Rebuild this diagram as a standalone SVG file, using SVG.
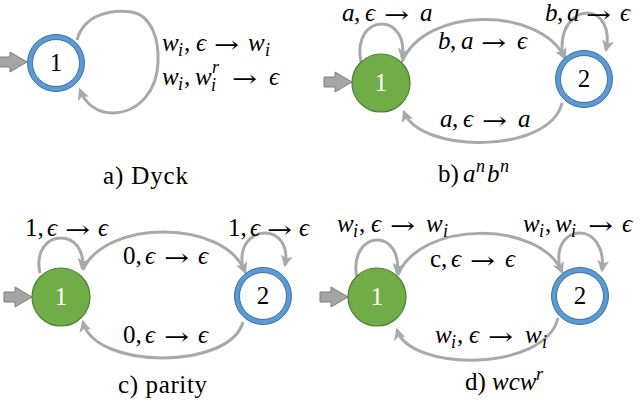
<svg xmlns="http://www.w3.org/2000/svg" xmlns:xlink="http://www.w3.org/1999/xlink" width="640" height="408" viewBox="0 0 640 408">
<style>
.t{font-family:"Liberation Serif","DejaVu Serif",serif;font-size:25px;fill:#000}
.i{font-style:italic}
.s{font-size:18px;font-style:italic}
.ar{font-family:"DejaVu Serif",serif;font-size:24px;fill:#000}
.num{font-family:"Liberation Serif","DejaVu Serif",serif;font-size:25px;text-anchor:middle}
.cap{font-family:"Liberation Serif","DejaVu Serif",serif;font-size:25px;fill:#000}
.edge{fill:none;stroke:#a9a9a9;stroke-width:3;marker-end:url(#ah)}
.ringw{fill:#fff;stroke:#5b9bd5;stroke-width:5}
.ringo{fill:none;stroke:#41719c;stroke-width:1}
.green{fill:#70ad47;stroke:#507e32;stroke-width:1.2}
.start{fill:#a5a5a5;stroke:#7f7f7f;stroke-width:1}
</style>
<defs>
<marker id="ah" viewBox="0 0 10 10" refX="8" refY="5" markerWidth="12" markerHeight="12" markerUnits="userSpaceOnUse" orient="auto">
<path d="M0,0 L10,5 L0,10 L2.5,5 z" fill="#a9a9a9"/>
</marker>
<polygon id="st" class="start" points="-28,-5 -17,-5 -17,-10 0,0 -17,10 -17,5 -28,5"/>
</defs>
<rect width="640" height="408" fill="#fff"/>

<g id="connectors">
<path class="edge" d="M77,40 C84,14 112,9 132,12 C152,16 159,40 158,62 C157,90 140,112 113,113 C96,113 85,103 80,90"/>
<path class="edge" d="M361,62 C356,38 368,24 382,24 C395,24 406,38 402,58"/>
<path class="edge" d="M402,62 C425,6 540,6 565,58"/>
<path class="edge" d="M563,57 C558,28 574,13 587,13 C601,13 611,28 606,50"/>
<path class="edge" d="M562,103 C550,154 420,154 404,112"/>
<path class="edge" d="M40,273 C35,250 48,238 61,238 C74,238 85,250 82,268"/>
<path class="edge" d="M83,270 C105,219 225,219 245,272"/>
<path class="edge" d="M243,268 C238,245 252,233 265,233 C278,233 289,245 285,265"/>
<path class="edge" d="M243,322 C230,370 95,370 83,322"/>
<path class="edge" d="M357,278 C352,255 364,240 377,240 C390,240 400,253 397,273"/>
<path class="edge" d="M398,275 C420,220 540,220 562,272"/>
<path class="edge" d="M560,268 C555,245 567,233 580,233 C593,233 605,247 602,270"/>
<path class="edge" d="M558,318 C545,372 410,372 397,330"/>
</g>

<g id="start-arrows">
<use xlink:href="#st" x="27" y="62"/>
<use xlink:href="#st" x="352" y="82"/>
<use xlink:href="#st" x="32" y="297"/>
<use xlink:href="#st" x="348" y="297"/>
</g>

<g id="a-node1">
<circle class="ringw" cx="56" cy="63" r="26"/>
<circle class="ringo" cx="56" cy="63" r="28.5"/>
<circle class="ringo" cx="56" cy="63" r="23.5"/>
<text class="num" x="56" y="71">1</text>
</g>
<g id="b-node1">
<circle class="green" cx="381" cy="83" r="29"/>
<text class="num" x="381" y="91" fill="#fff">1</text>
</g>
<g id="b-node2">
<circle class="ringw" cx="584" cy="79" r="26"/>
<circle class="ringo" cx="584" cy="79" r="28.5"/>
<circle class="ringo" cx="584" cy="79" r="23.5"/>
<text class="num" x="584" y="87">2</text>
</g>
<g id="c-node1">
<circle class="green" cx="61" cy="297" r="29"/>
<text class="num" x="61" y="305" fill="#fff">1</text>
</g>
<g id="c-node2">
<circle class="ringw" cx="263" cy="296" r="26"/>
<circle class="ringo" cx="263" cy="296" r="28.5"/>
<circle class="ringo" cx="263" cy="296" r="23.5"/>
<text class="num" x="263" y="304">2</text>
</g>
<g id="d-node1">
<circle class="green" cx="377" cy="297" r="29"/>
<text class="num" x="377" y="305" fill="#fff">1</text>
</g>
<g id="d-node2">
<circle class="ringw" cx="580" cy="296" r="26"/>
<circle class="ringo" cx="580" cy="296" r="28.5"/>
<circle class="ringo" cx="580" cy="296" r="23.5"/>
<text class="num" x="580" y="304">2</text>
</g>

<g id="labels">
<g>
<text class="t"><tspan class="i" x="162" y="51">w</tspan><tspan class="s" x="178" y="56">i</tspan><tspan x="184" y="51">,</tspan><tspan class="i" x="196" y="51">ϵ</tspan><tspan class="i" x="248" y="51">w</tspan><tspan class="s" x="265" y="56">i</tspan></text>
<text class="ar" x="214" y="53" textLength="25" lengthAdjust="spacingAndGlyphs">→</text>
</g>
<g>
<text class="t"><tspan class="i" x="162" y="85">w</tspan><tspan class="s" x="178" y="90">i</tspan><tspan x="184" y="85">,</tspan><tspan class="i" x="195" y="85">w</tspan><tspan class="s" x="211" y="91">i</tspan><tspan class="s" x="212" y="73">r</tspan><tspan class="i" x="269" y="85">ϵ</tspan></text>
<text class="ar" x="232" y="87" textLength="25" lengthAdjust="spacingAndGlyphs">→</text>
</g>

<g>
<text class="t"><tspan class="i" x="342" y="21">a</tspan><tspan x="354" y="21">,</tspan><tspan class="i" x="365" y="21">ϵ</tspan><tspan class="i" x="420" y="21">a</tspan></text>
<text class="ar" x="384" y="23" textLength="25" lengthAdjust="spacingAndGlyphs">→</text>
</g>
<g>
<text class="t"><tspan class="i" x="438" y="49">b</tspan><tspan x="450" y="49">,</tspan><tspan class="i" x="461" y="49">a</tspan><tspan class="i" x="517" y="49">ϵ</tspan></text>
<text class="ar" x="481" y="51" textLength="25" lengthAdjust="spacingAndGlyphs">→</text>
</g>
<g>
<text class="t"><tspan class="i" x="545" y="21">b</tspan><tspan x="557" y="21">,</tspan><tspan class="i" x="567" y="21">a</tspan><tspan class="i" x="620" y="21">ϵ</tspan></text>
<text class="ar" x="586" y="23" textLength="25" lengthAdjust="spacingAndGlyphs">→</text>
</g>
<g>
<text class="t"><tspan class="i" x="440" y="127">a</tspan><tspan x="452" y="127">,</tspan><tspan class="i" x="463" y="127">ϵ</tspan><tspan class="i" x="518" y="127">a</tspan></text>
<text class="ar" x="482" y="129" textLength="25" lengthAdjust="spacingAndGlyphs">→</text>
</g>

<g>
<text class="t"><tspan x="25" y="236">1,</tspan><tspan class="i" x="47" y="236">ϵ</tspan><tspan class="i" x="98" y="236">ϵ</tspan></text>
<text class="ar" x="65" y="238" textLength="25" lengthAdjust="spacingAndGlyphs">→</text>
</g>
<g>
<text class="t"><tspan x="123" y="264">0,</tspan><tspan class="i" x="145" y="264">ϵ</tspan><tspan class="i" x="198" y="264">ϵ</tspan></text>
<text class="ar" x="164" y="266" textLength="25" lengthAdjust="spacingAndGlyphs">→</text>
</g>
<g>
<text class="t"><tspan x="228" y="236">1,</tspan><tspan class="i" x="250" y="236">ϵ</tspan><tspan class="i" x="299" y="236">ϵ</tspan></text>
<text class="ar" x="267" y="238" textLength="25" lengthAdjust="spacingAndGlyphs">→</text>
</g>
<g>
<text class="t"><tspan x="123" y="343">0,</tspan><tspan class="i" x="145" y="343">ϵ</tspan><tspan class="i" x="198" y="343">ϵ</tspan></text>
<text class="ar" x="164" y="345" textLength="25" lengthAdjust="spacingAndGlyphs">→</text>
</g>

<g>
<text class="t"><tspan class="i" x="337" y="232">w</tspan><tspan class="s" x="353" y="237">i</tspan><tspan x="359" y="232">,</tspan><tspan class="i" x="371" y="232">ϵ</tspan><tspan class="i" x="426" y="232">w</tspan><tspan class="s" x="443" y="237">i</tspan></text>
<text class="ar" x="390" y="234" textLength="25" lengthAdjust="spacingAndGlyphs">→</text>
</g>
<g>
<text class="t"><tspan x="430" y="267">c,</tspan><tspan class="i" x="451" y="267">ϵ</tspan><tspan class="i" x="505" y="267">ϵ</tspan></text>
<text class="ar" x="470" y="269" textLength="25" lengthAdjust="spacingAndGlyphs">→</text>
</g>
<g>
<text class="t"><tspan class="i" x="523" y="232">w</tspan><tspan class="s" x="539" y="237">i</tspan><tspan x="545" y="232">,</tspan><tspan class="i" x="555" y="232">w</tspan><tspan class="s" x="571" y="237">i</tspan><tspan class="i" x="622" y="232">ϵ</tspan></text>
<text class="ar" x="588" y="234" textLength="25" lengthAdjust="spacingAndGlyphs">→</text>
</g>
<g>
<text class="t"><tspan class="i" x="435" y="343">w</tspan><tspan class="s" x="451" y="348">i</tspan><tspan x="457" y="343">,</tspan><tspan class="i" x="469" y="343">ϵ</tspan><tspan class="i" x="525" y="343">w</tspan><tspan class="s" x="542" y="348">i</tspan></text>
<text class="ar" x="488" y="345" textLength="25" lengthAdjust="spacingAndGlyphs">→</text>
</g>
</g>

<g id="captions">
<text class="cap" x="103" y="184" textLength="85">a) Dyck</text>
<text class="cap"><tspan x="438" y="182">b)</tspan><tspan class="i" x="463" y="182">a</tspan><tspan class="s" x="476" y="172">n</tspan><tspan class="i" x="487" y="182">b</tspan><tspan class="s" x="500" y="172">n</tspan></text>
<text class="cap" x="118" y="393" textLength="89">c) parity</text>
<text class="cap"><tspan x="465" y="390">d)</tspan><tspan class="i" x="492" y="390">wcw</tspan><tspan class="s" x="536" y="380">r</tspan></text>
</g>
</svg>
